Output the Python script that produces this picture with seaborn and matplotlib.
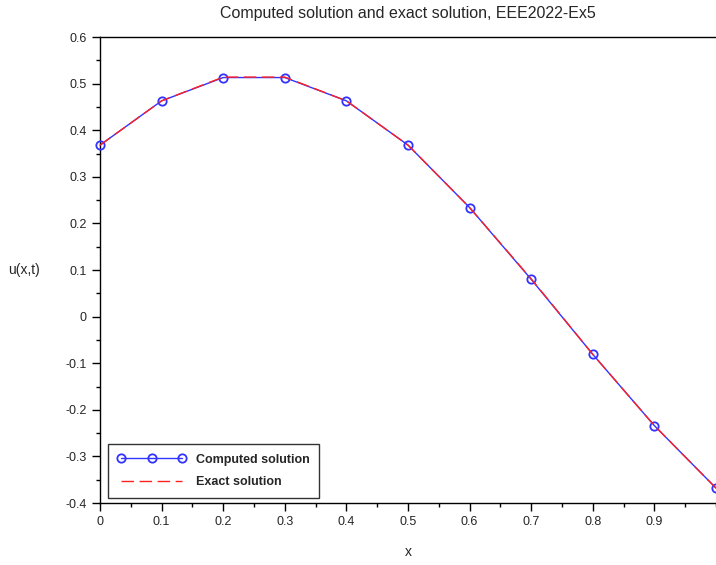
import matplotlib
import matplotlib.pyplot as plt
import numpy as np
import pandas as pd
import seaborn as sns
from matplotlib.ticker import MultipleLocator

matplotlib.use("Agg")

x_values = [0.0, 0.1, 0.2, 0.3, 0.4, 0.5, 0.6, 0.7, 0.8, 0.9, 1.0]
computed = [0.368, 0.463, 0.513, 0.513, 0.463, 0.368, 0.234, 0.080, -0.081, -0.234, -0.368]
exact = [0.368, 0.463, 0.514, 0.514, 0.463, 0.368, 0.234, 0.081, -0.081, -0.234, -0.368]

x_ticks = [0.0, 0.1, 0.2, 0.3, 0.4, 0.5, 0.6, 0.7, 0.8, 0.9]
x_tick_labels = ["0", "0.1", "0.2", "0.3", "0.4", "0.5", "0.6", "0.7", "0.8", "0.9"]
y_ticks = [-0.4, -0.3, -0.2, -0.1, 0.0, 0.1, 0.2, 0.3, 0.4, 0.5, 0.6]
y_tick_labels = ["-0.4", "-0.3", "-0.2", "-0.1", "0", "0.1", "0.2", "0.3", "0.4", "0.5", "0.6"]

sns.set_theme(style="ticks")
plt.rcParams["font.family"] = ["Liberation Sans", "DejaVu Sans"]

df = pd.DataFrame({"x": x_values, "computed": computed, "exact": exact})

fig = plt.figure(figsize=(7.16, 5.65), dpi=100)
ax = fig.add_axes([0.1397, 0.1097, 0.8603, 0.8248])

sns.lineplot(
    data=df, x="x", y="computed", ax=ax, color="#3333ff", linewidth=1.0,
    marker="o", markersize=6, markerfacecolor="none", markeredgecolor="#3333ff",
    markeredgewidth=1.3, label="Computed solution", clip_on=False, zorder=3,
)
sns.lineplot(
    data=df, x="x", y="exact", ax=ax, color="#ff2020", linewidth=1.0,
    linestyle=(0, (9, 4)), label="Exact solution", zorder=4,
)

ax.set_xlim(0, 1)
ax.set_ylim(-0.4, 0.6)
ax.set_xticks(x_ticks)
ax.set_xticklabels(x_tick_labels)
ax.set_yticks(y_ticks)
ax.set_yticklabels(y_tick_labels)
ax.xaxis.set_minor_locator(MultipleLocator(0.05))
ax.yaxis.set_minor_locator(MultipleLocator(0.05))
ax.tick_params(which="major", direction="out", length=6, width=1, labelsize=9, color="black")
ax.tick_params(which="minor", direction="out", length=3, width=1, color="black")

for side in ["left", "bottom", "top"]:
    ax.spines[side].set_color("black")
    ax.spines[side].set_linewidth(1.0)
ax.spines["right"].set_visible(False)

ax.set_title("Computed solution and exact solution, EEE2022-Ex5", fontsize=11.5, pad=14)
ax.set_xlabel("x", fontsize=10, labelpad=12)
ax.set_ylabel("u(x,t)", fontsize=10, rotation=0, labelpad=30, va="center")

leg = ax.legend(
    loc="lower left", frameon=True, fancybox=False, borderpad=0.75,
    handlelength=5.5, numpoints=3, labelspacing=0.85, handletextpad=0.8,
    prop={"weight": "bold", "size": 9},
    bbox_to_anchor=(0.003, -0.002),
)
leg.get_frame().set_edgecolor("black")
leg.get_frame().set_linewidth(1.0)

fig.savefig("out.png", dpi=100)
